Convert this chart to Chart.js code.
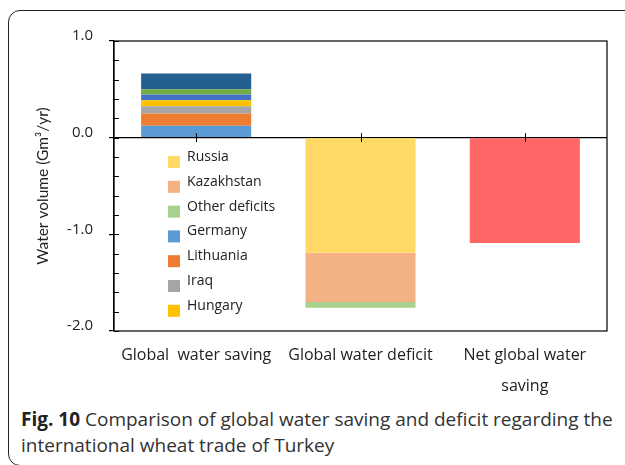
<!DOCTYPE html>
<html>
<head>
<meta charset="utf-8">
<script src="https://cdn.jsdelivr.net/npm/chart.js@4"></script>
<style>
  body { margin: 0; background: #fff; width: 625px; height: 465px; overflow: hidden; position: relative; font-family: "Open Sans", sans-serif; }
  #frame { position: absolute; left: 8px; top: 10px; width: 700px; height: 454px; border: 1.5px solid #222; border-radius: 12px 0 0 12px; }
  #chart { position: absolute; left: 0; top: 0; }
  #caption { position: absolute; left: 21px; top: 406px; width: 610px; font-size: 19px; line-height: 26px; color: #333; white-space: nowrap; }
  #caption b { color: #222; }
</style>
</head>
<body>
<div id="frame"></div>
<canvas id="chart" width="625" height="400"></canvas>
<div id="caption"><b>Fig. 10</b> Comparison of global water saving and deficit regarding the<br>international wheat trade of Turkey</div>
<script>
// categories on the x axis
const categories = ['Global  water saving', 'Global water deficit', ['Net global water', 'saving']];

// global water saving, stacked from the zero line upwards
const savingNames = ['Germany', 'Lithuania', 'Iraq', 'Hungary', 'Saving 5', 'Saving 6', 'Other savings'];
const savingValues = [0.124, 0.126, 0.074, 0.062, 0.061, 0.053, 0.165];
const savingColors = ['#5B9BD5', '#ED7D31', '#A5A5A5', '#FFC000', '#4472C4', '#70AD47', '#255E91'];

// global water deficit, stacked downwards
const deficitNames = ['Russia', 'Kazakhstan', 'Other deficits'];
const deficitValues = [-1.19, -0.51, -0.06];
const deficitColors = ['#FFD966', '#F4B183', '#A9D18E'];

// net saving
const netValues = [-1.09];
const netColor = '#FF6666';

// legend entries that show in the picture
const legendNames = ['Russia', 'Kazakhstan', 'Other deficits', 'Germany', 'Lithuania', 'Iraq', 'Hungary'];

// y axis
const yMin = -2.0;
const yMax = 1.0;
const yMinorStep = 0.2;

const datasets = [];
savingNames.forEach((name, i) => {
  datasets.push({ label: name, data: [savingValues[i], null, null], backgroundColor: savingColors[i], stack: 's' });
});
deficitNames.forEach((name, i) => {
  datasets.push({ label: name, data: [null, deficitValues[i], null], backgroundColor: deficitColors[i], stack: 's' });
});
datasets.push({ label: 'Net', data: [null, null, netValues[0]], backgroundColor: netColor, stack: 's' });

const isMajor = v => Math.abs(v - Math.round(v)) < 1e-6;

const boxPlugin = {
  id: 'box',
  afterDraw(chart) {
    const ctx = chart.ctx;
    const a = chart.chartArea;
    const x = chart.scales.x;
    const y = chart.scales.y;
    ctx.save();
    ctx.strokeStyle = '#000';
    ctx.lineWidth = 1.2;
    ctx.strokeRect(a.left, a.top, a.right - a.left, a.bottom - a.top);
    // inner ticks on y axis
    ctx.lineWidth = 1;
    y.ticks.forEach(t => {
      const py = Math.round(y.getPixelForValue(t.value)) + 0.5;
      ctx.beginPath();
      ctx.moveTo(a.left, py);
      ctx.lineTo(a.left + 5, py);
      ctx.stroke();
    });
    // category ticks crossing the zero line
    const y0 = y.getPixelForValue(0);
    categories.forEach((c, i) => {
      const px = Math.round(x.getPixelForValue(i)) + 0.5;
      ctx.beginPath();
      ctx.moveTo(px, y0 - 4.5);
      ctx.lineTo(px, y0 + 4.5);
      ctx.stroke();
    });
    // legend
    ctx.font = '14px "Open Sans", sans-serif';
    ctx.textBaseline = 'alphabetic';
    legendNames.forEach((name, i) => {
      const ds = chart.data.datasets.find(d => d.label === name);
      const cy = 162 + i * 24.8;
      ctx.fillStyle = ds.backgroundColor;
      ctx.fillRect(168, cy - 6, 12, 12);
      ctx.fillStyle = '#222';
      ctx.fillText(name, 187, cy - 1);
    });
    ctx.restore();
  }
};

new Chart(document.getElementById('chart'), {
  type: 'bar',
  data: { labels: categories, datasets: datasets },
  options: {
    responsive: false,
    devicePixelRatio: 1,
    animation: false,
    layout: { padding: { left: 34, top: 41, right: 18, bottom: 0 } },
    datasets: { bar: { categoryPercentage: 1, barPercentage: 0.67 } },
    plugins: { legend: { display: false }, tooltip: { enabled: false } },
    scales: {
      x: {
        stacked: true,
        grid: { display: false },
        border: { display: false },
        ticks: { color: '#222', font: { size: 16, family: '"Open Sans", sans-serif', lineHeight: 1.95 }, padding: 1, maxRotation: 0 },
        afterFit: s => { s.height = 69; }
      },
      y: {
        stacked: true,
        min: yMin,
        max: yMax,
        afterFit: s => { s.width = 80; },
        ticks: {
          stepSize: yMinorStep,
          autoSkip: false,
          color: '#222',
          padding: 16,
          labelOffset: -5,
          font: { size: 15, family: '"Open Sans", sans-serif' },
          callback: v => isMajor(v) ? v.toFixed(1) : ''
        },
        grid: {
          drawOnChartArea: true,
          tickLength: 5,
          color: c => (c.tick && Math.abs(c.tick.value) < 1e-9) ? '#000' : 'rgba(0,0,0,0)',
          tickColor: c => (c.tick && isMajor(c.tick.value)) ? '#000' : 'rgba(0,0,0,0)',
          lineWidth: 1.2
        },
        border: { display: true, color: '#000', width: 1.2 },
        title: {
          display: true,
          text: 'Water volume (Gm³/yr)',
          color: '#222',
          padding: 0,
          font: { size: 15.5, family: 'Lato, "Open Sans", sans-serif' }
        }
      }
    }
  },
  plugins: [boxPlugin]
});
</script>
</body>
</html>
